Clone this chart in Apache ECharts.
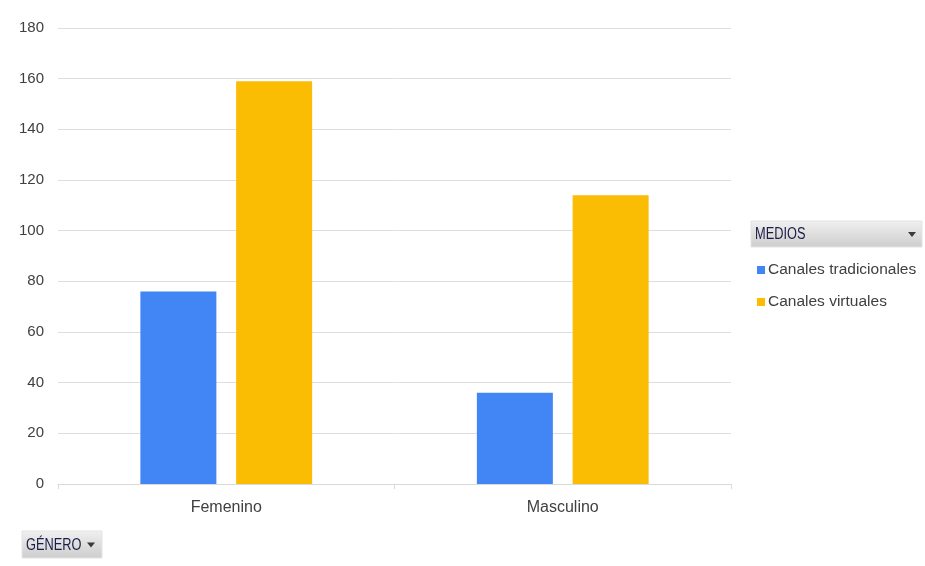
<!DOCTYPE html>
<html>
<head>
<meta charset="utf-8">
<script src="https://cdn.jsdelivr.net/npm/echarts@6/dist/echarts.min.js"></script>
<style>
  html, body { margin: 0; padding: 0; background: #ffffff; }
  #chart { width: 925px; height: 566px; }
</style>
</head>
<body>
<div id="chart"></div>
<script>
// Categories and series values
const categories = ['Femenino', 'Masculino'];
const seriesNames = ['Canales tradicionales', 'Canales virtuales'];
const tradicionales = [76, 36];
const virtuales = [159, 114];
const yTicks = [0, 20, 40, 60, 80, 100, 120, 140, 160, 180];

const FONT = '"Liberation Sans", Arial, sans-serif';
const colors = ['#4285f4', '#fbbc04'];

const chart = echarts.init(document.getElementById('chart'));

// Gray field button with a drop-down arrow (pivot field header)
function fieldButton(x, y, w, h, label, arrowX) {
  return [
    {
      type: 'rect',
      shape: { x: x, y: y, width: w, height: h },
      style: {
        fill: new echarts.graphic.LinearGradient(0, 0, 0, 1, [
          { offset: 0, color: '#f0f0f0' },
          { offset: 1, color: '#cdcdcd' }
        ]),
        stroke: '#e4e4e4',
        lineWidth: 1
      }
    },
    {
      type: 'text',
      x: x + 4,
      y: y + h / 2 + 1,
      scaleX: 0.8,
      style: {
        text: label,
        font: '16px ' + FONT,
        fill: '#1c1c48',
        textVerticalAlign: 'middle'
      }
    },
    {
      type: 'polygon',
      shape: { points: [[arrowX - 4, y + h / 2 - 2], [arrowX + 4, y + h / 2 - 2], [arrowX, y + h / 2 + 3]] },
      style: { fill: '#3a3a3a' }
    }
  ];
}

const option = {
  animation: false,
  backgroundColor: '#ffffff',
  color: colors,
  grid: { left: 58, right: 194, top: 28, bottom: 82, containLabel: false },
  legend: {
    orient: 'vertical',
    left: 752,
    top: 257,
    icon: 'rect',
    itemWidth: 8,
    itemHeight: 8,
    itemGap: 16,
    data: seriesNames,
    textStyle: { color: '#404040', fontSize: 15.5, fontFamily: FONT, padding: [0, 0, 0, -2] }
  },
  xAxis: {
    type: 'category',
    data: categories,
    axisLine: { show: true, lineStyle: { color: '#d9d9d9', width: 1 } },
    axisTick: { show: true, length: 5, lineStyle: { color: '#d9d9d9' } },
    axisLabel: { color: '#404040', fontSize: 16, fontFamily: FONT, margin: 16 }
  },
  yAxis: {
    type: 'value',
    min: yTicks[0],
    max: yTicks[yTicks.length - 1],
    interval: 20,
    axisLine: { show: false },
    axisTick: { show: false },
    axisLabel: { color: '#404040', fontSize: 15, fontFamily: FONT, margin: 14 },
    splitLine: { lineStyle: { color: '#dedede', width: 1 } }
  },
  series: [
    {
      name: seriesNames[0],
      type: 'bar',
      data: tradicionales,
      barWidth: 76,
      barGap: '26%',
      itemStyle: { color: colors[0] }
    },
    {
      name: seriesNames[1],
      type: 'bar',
      data: virtuales,
      barWidth: 76,
      itemStyle: { color: colors[1] }
    }
  ],
  graphic: [].concat(
    fieldButton(751, 221, 171, 26, 'MEDIOS', 912),
    fieldButton(22, 531, 80, 27, 'GÉNERO', 91)
  )
};

chart.setOption(option);
</script>
</body>
</html>
